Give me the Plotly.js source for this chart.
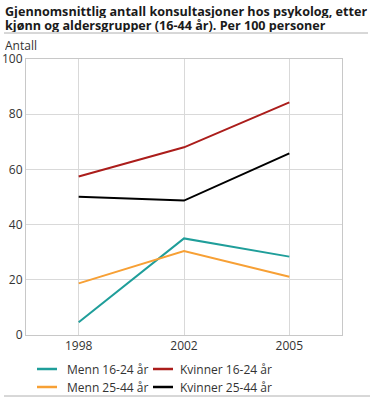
<!DOCTYPE html>
<html>
<head>
<meta charset="utf-8">
<script src="https://cdn.plot.ly/plotly-3.0.1.min.js"></script>
<style>
  html, body { margin: 0; padding: 0; background: #fff; }
  #chart { width: 374px; height: 398px; }
</style>
</head>
<body>
<div id="chart"></div>
<script>
// ---- data ----
const years = ["1998", "2002", "2005"];
const menn1624 = [4.6, 35.0, 28.4];
const kvinner1624 = [57.4, 68.0, 84.3];
const menn2544 = [18.7, 30.4, 21.1];
const kvinner2544 = [50.1, 48.7, 65.8];
const seriesNames = ["Menn 16-24 år", "Kvinner 16-24 år", "Menn 25-44 år", "Kvinner 25-44 år"];
const yTicks = [0, 20, 40, 60, 80, 100];
const titleLines = ["Gjennomsnittlig antall konsultasjoner hos psykolog, etter",
                    "kjønn og aldersgrupper (16-44 år). Per 100 personer"];
const yLabel = "Antall";

// ---- layout geometry (pixels) ----
const W = 374, H = 398;
const L = 26, R = 342, T = 59, B = 335;
const px = x => (x - L) / (R - L);
const py = y => (B - y) / (B - T);

const FONT = "Open Sans, Noto Sans, sans-serif";
const colors = ["#1f9e9a", "#ab1d1b", "#f7a035", "#000000"];
const values = [menn1624, kvinner1624, menn2544, kvinner2544];

const traces = values.map((v, i) => ({
  type: "scatter",
  mode: "lines",
  x: years,
  y: v,
  name: seriesNames[i],
  line: { color: colors[i], width: 2 },
  hoverinfo: "skip",
  showlegend: false
}));

// legend positions (pixels): 2 columns x 2 rows
const legCols = [{ x0: 37, x1: 57, tx: 65 }, { x0: 153, x1: 173, tx: 178 }];
const legRows = [369, 387];

const annotations = [];
const shapes = [];

titleLines.forEach((t, i) => {
  annotations.push({
    text: t, showarrow: false,
    xref: "paper", yref: "paper",
    x: px(3), xanchor: "left",
    y: py(10.5 + i * 14.5), yanchor: "middle",
    height: 14, valign: "middle",
    font: { family: FONT, size: 12.6, color: "#1a1a1a", weight: "bold" }
  });
});

annotations.push({
  text: yLabel, showarrow: false,
  xref: "paper", yref: "paper",
  x: px(3), xanchor: "left",
  y: py(45), yanchor: "middle",
  height: 13, valign: "middle",
  font: { family: FONT, size: 12, color: "#333" }
});

seriesNames.forEach((name, i) => {
  const c = legCols[i % 2], r = legRows[Math.floor(i / 2)];
  shapes.push({
    type: "line", xref: "paper", yref: "paper",
    x0: px(c.x0), x1: px(c.x1), y0: py(r), y1: py(r),
    line: { color: colors[i], width: 2.5 }
  });
  annotations.push({
    text: name, showarrow: false,
    xref: "paper", yref: "paper",
    x: px(c.tx), xanchor: "left",
    y: py(r), yanchor: "middle",
    font: { family: FONT, size: 12, color: "#333" }
  });
});

shapes.push(
  { type: "line", xref: "paper", yref: "paper", x0: px(4), x1: px(368), y0: py(33), y1: py(33),
    line: { color: "#b0b0b0", width: 1 } },
  { type: "line", xref: "paper", yref: "paper", x0: px(4), x1: px(370), y0: py(396), y1: py(396),
    line: { color: "#b0b0b0", width: 1 } }
);

const layout = {
  width: W, height: H,
  margin: { l: L, r: W - R, t: T, b: H - B, pad: 0 },
  paper_bgcolor: "#fff",
  plot_bgcolor: "#fff",
  font: { family: FONT, size: 12, color: "#333" },
  showlegend: false,
  xaxis: {
    type: "category",
    range: [-0.5, 2.5],
    showgrid: true, gridcolor: "#d9d9d9", gridwidth: 1,
    showline: true, linecolor: "#c8c8c8", linewidth: 1, mirror: true,
    ticks: "", zeroline: false,
    tickfont: { family: FONT, size: 12, color: "#333" },
    automargin: false,
    fixedrange: true
  },
  yaxis: {
    range: [0, 100],
    tickvals: yTicks,
    showgrid: true, gridcolor: "#d9d9d9", gridwidth: 1,
    showline: true, linecolor: "#c8c8c8", linewidth: 1, mirror: true,
    ticks: "", zeroline: false,
    tickfont: { family: FONT, size: 12, color: "#333" },
    automargin: false,
    fixedrange: true
  },
  annotations: annotations,
  shapes: shapes
};

Plotly.newPlot("chart", traces, layout, { displayModeBar: false, staticPlot: true });
</script>
</body>
</html>
